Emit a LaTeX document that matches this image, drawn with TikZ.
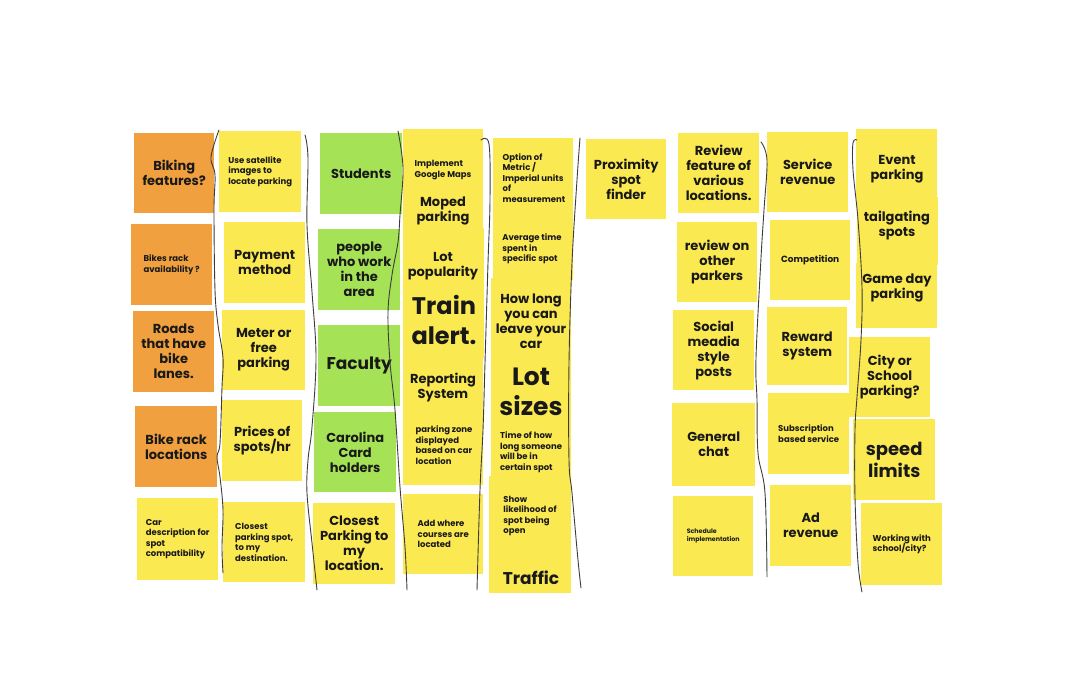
\documentclass[tikz,border=0pt]{standalone}
\usepackage{fontspec}
\setmainfont{Poppins}
\begin{document}
\definecolor{orng}{RGB}{240,160,62}
\definecolor{ylw}{RGB}{251,233,82}
\definecolor{grn}{RGB}{166,226,86}
\definecolor{ink}{RGB}{25,25,25}
\definecolor{pen}{RGB}{60,60,60}
\begin{tikzpicture}[x=1pt,y=-1pt,
  sticky/.style={rectangle, inner sep=0pt, anchor=north west, fill=#1, text=ink, align=center},
  sz/.style 2 args={minimum width=#1pt, minimum height=#2pt},
  lbl/.style={font=\fontsize{13}{15}\selectfont\bfseries},
  lblsm/.style={font=\fontsize{8.5}{10.5}\selectfont\bfseries, align=left},
  lbltiny/.style={font=\fontsize{6.3}{7.8}\selectfont\bfseries, align=left},
  lblxl/.style={font=\fontsize{24}{30}\selectfont\bfseries},
  lblmd/.style={font=\fontsize{17}{20}\selectfont\bfseries},
  txt/.style={inner sep=0pt, text=ink, align=center},
  sep/.style={draw=pen, line width=0.9pt, line cap=round, line join=round}]
\useasboundingbox[fill=white] (0,0) rectangle (1072,690);

% ---- column 1: biking ----
\node[sticky=orng, sz={80}{80}, lbl] (bikfeat) at (134,133) {Biking\\features?};
\node[sticky=orng, sz={81}{81}, lblsm] (bikerack) at (131,224) {Bikes rack\\availability ?};
\node[sticky=orng, sz={81}{81}, lbl] (roads) at (133,311) {Roads\\that have\\bike\\lanes.};
\node[sticky=orng, sz={82}{81}, lbl] (rackloc) at (135,406) {Bike rack\\locations};
\node[sticky=ylw, sz={81}{82}, lblsm] (cardesc) at (137,498) {Car\\description for\\spot\\compatibility};

% ---- column 2 ----
\node[sticky=ylw, sz={82}{81}, lblsm] (satellite) at (219,131) {Use satellite\\images to\\locate parking};
\node[sticky=ylw, sz={81}{81}, lbl] (payment) at (224,222) {Payment\\method};
\node[sticky=ylw, sz={83}{80}, lbl] (meter) at (222,310) {Meter or\\free\\parking};
\node[sticky=ylw, sz={80}{81}, lbl] (prices) at (222,400) {Prices of\\spots/hr};
\node[sticky=ylw, sz={82}{80}, lblsm] (closestspot) at (223,502) {Closest\\parking spot,\\to my\\destination.};

% ---- column 3: user groups ----
\node[sticky=grn, sz={82}{81}, lbl] (students) at (320,133) {Students};
\node[sticky=grn, sz={82}{81}, lbl] (workers) at (318,229) {people\\who work\\in the\\area};
\node[sticky=grn, sz={82}{81}, lblmd] (faculty) at (318,325) {Faculty};
\node[sticky=grn, sz={82}{80}, lbl] (carolina) at (314,412) {Carolina\\Card\\holders};
\node[sticky=ylw, sz={82}{81}, lbl] (closestloc) at (313,503) {Closest\\Parking to\\my\\location.};

% ---- column 4: stacked notes ----
\node[sticky=ylw, sz={80}{100}] (colDa) at (403,129) {};
\node[sticky=ylw, sz={81}{130}] (colDb) at (403,228) {};
\node[sticky=ylw, sz={80}{130}] (colDc) at (403,355) {};
\node[txt, lblsm] (gmaps) at (443,170) {Implement\\Google Maps};
\node[txt, lbl] (moped) at (443,211) {Moped\\parking};
\node[txt, lbl] (lotpop) at (443,266) {Lot\\popularity};
\node[txt, lblxl] (train) at (444,320) {Train\\alert.};
\node[txt, lbl] (reporting) at (443,388) {Reporting\\System};
\node[txt, lblsm] (zone) at (444,445) {parking zone\\displayed\\based on car\\location};
\node[sticky=ylw, sz={80}{80}, lblsm] (courses) at (403,494) {Add where\\courses are\\located};

% ---- column 5: stacked notes ----
\node[sticky=ylw, sz={80}{142}] (colEa) at (493,138) {};
\node[sticky=ylw, sz={80}{200}] (colEb) at (491,278) {};
\node[sticky=ylw, sz={82}{117}] (colEc) at (489,476) {};
\node[txt, lblsm] (metric) at (534,178) {Option of\\Metric /\\Imperial units\\of\\measurement};
\node[txt, lblsm] (avgtime) at (532,249) {Average time\\spent in\\specific spot};
\node[txt, lbl] (howlong) at (531,321) {How long\\you can\\leave your\\car};
\node[txt, font=\fontsize{25}{30}\selectfont\bfseries] (lotsizes) at (531,392) {Lot\\sizes};
\node[txt, lblsm] (timeof) at (531,452) {Time of how\\long someone\\will be in\\certain spot};
\node[txt, lblsm] (likely) at (530,516) {Show\\likelihood of\\spot being\\open};
\node[txt, lblmd] (traffic) at (531,578) {Traffic};

% ---- column 6 ----
\node[sticky=ylw, sz={80}{80}, lbl] (proximity) at (586,139) {Proximity\\spot\\finder};

% ---- column 7: reviews & social ----
\node[sticky=ylw, sz={81}{80}, lbl] (reviewfeat) at (678,133) {Review\\feature of\\various\\locations.};
\node[sticky=ylw, sz={80}{80}, lbl] (reviewpark) at (677,222) {review on\\other\\parkers};
\node[sticky=ylw, sz={81}{80}, lbl] (social) at (673,310) {Social\\meadia\\style\\posts};
\node[sticky=ylw, sz={83}{83}, lbl] (chat) at (672,403) {General\\chat};
\node[sticky=ylw, sz={80}{80}, lbltiny] (schedule) at (673,496) {Schedule\\implementation};

% ---- column 8: revenue ----
\node[sticky=ylw, sz={81}{80}, lbl] (service) at (767,132) {Service\\revenue};
\node[sticky=ylw, sz={80}{80}, font=\fontsize{9}{11}\selectfont\bfseries] (competition) at (770,220) {Competition};
\node[sticky=ylw, sz={80}{78}, lbl] (reward) at (767,307) {Reward\\system};
\node[sticky=ylw, sz={81}{81}, lblsm] (subscription) at (768,393) {Subscription\\based service};
\node[sticky=ylw, sz={81}{81}, lbl] (adrev) at (770,485) {Ad\\revenue};

% ---- column 9: events & city ----
\node[sticky=ylw, sz={81}{70}] (colIa) at (856,129) {};
\node[sticky=ylw, sz={81}{68}] (colIb) at (857,197) {};
\node[sticky=ylw, sz={81}{65}] (colIc) at (856,263) {};
\node[txt, lbl] (event) at (897,169) {Event\\parking};
\node[txt, lbl] (tailgate) at (897,226) {tailgating\\spots};
\node[txt, lbl] (gameday) at (897,288) {Game day\\parking};
\node[sticky=ylw, sz={81}{80}, lbl] (city) at (849,337) {City or\\School\\parking?};
\node[sticky=ylw, sz={82}{81}, font=\fontsize{18}{22}\selectfont\bfseries] (speed) at (853,419) {speed\\limits};
\node[sticky=ylw, sz={81}{82}, lblsm] (working) at (861,503) {Working with\\school/city?};

% ---- hand-drawn column dividers ----
\draw[sep] plot[smooth, tension=0.6] coordinates {(219,130) (211,157) (215,175) (214,210) (215,290) (218,325) (223,358) (222,387) (220,443) (217,457) (220,477) (223,510) (222,547) (223,573)};
\draw[sep] plot[smooth, tension=0.6] coordinates {(305,135) (308,158) (307,225) (312,292) (316,358) (312,427) (308,460) (307,493) (312,543) (317,590)};
\draw[sep] plot[smooth, tension=0.6] coordinates {(398,131) (403,168) (400,215) (398,242) (392,275) (388,312) (390,362) (395,410) (400,487) (405,547) (407,590)};
\draw[sep] plot[smooth, tension=0.6] coordinates {(481,140) (489,144) (490,200) (488,263) (485,363) (483,430) (480,490) (477,590)};
\draw[sep] plot[smooth, tension=0.6] coordinates {(580,138) (577,180) (572,263) (569,363) (569,460) (572,493) (578,560) (581,588)};
\draw[sep] plot[smooth, tension=0.6] coordinates {(761,142) (767,160) (764,210) (761,258) (756,358) (757,400) (758,453) (765,493) (767,577)};
\draw[sep] plot[smooth, tension=0.6] coordinates {(857,140) (853,143) (853,170) (858,220) (862,287) (861,340) (857,397) (855,430) (855,497) (858,563) (862,592)};
\end{tikzpicture}
\end{document}
